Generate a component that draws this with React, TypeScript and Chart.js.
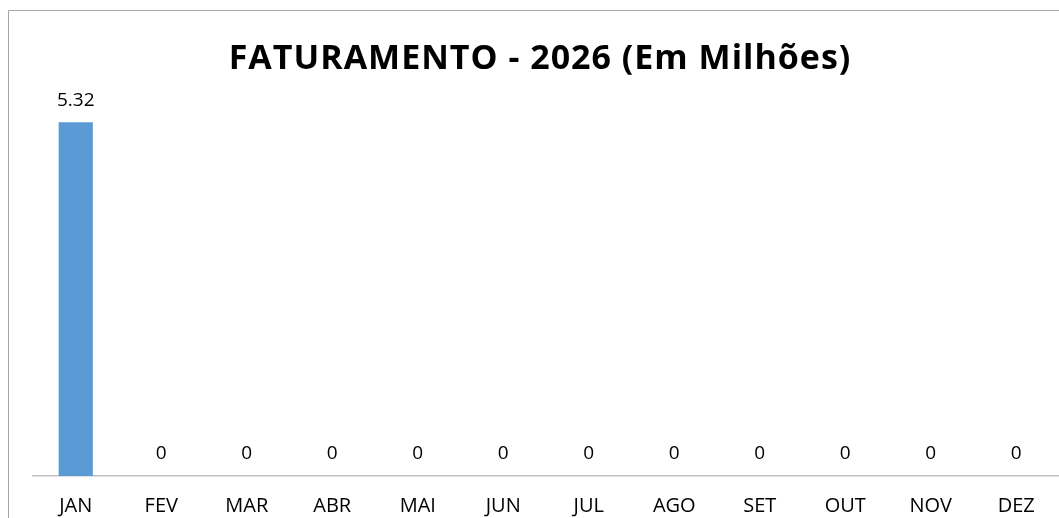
import React, { useEffect, useRef } from "react";
import { Chart, registerables } from "chart.js";

Chart.register(...registerables);

const categories = ["JAN", "FEV", "MAR", "ABR", "MAI", "JUN", "JUL", "AGO", "SET", "OUT", "NOV", "DEZ"];
const faturamento = [5.32, 0, 0, 0, 0, 0, 0, 0, 0, 0, 0, 0];
const titleText = "FATURAMENTO - 2026 (Em Milhões)";
const FONT = "'Open Sans', Lato, sans-serif";

const framePlugin = {
  id: "frame",
  beforeDraw(chart: any) {
    const ctx = chart.ctx;
    ctx.save();
    ctx.fillStyle = "#ffffff";
    ctx.fillRect(0, 0, chart.width, chart.height);
    ctx.strokeStyle = "#a6a6a6";
    ctx.lineWidth = 1;
    ctx.beginPath();
    ctx.moveTo(8.5, chart.height + 2);
    ctx.lineTo(8.5, 10.5);
    ctx.lineTo(chart.width + 2, 10.5);
    ctx.stroke();
    ctx.fillStyle = "#000000";
    ctx.font = `bold 34px ${FONT}`;
    try {
      (ctx as any).letterSpacing = "1px";
    } catch (e) {}
    ctx.textAlign = "center";
    ctx.textBaseline = "middle";
    ctx.fillText(titleText, 540, 59);
    ctx.restore();
  },
  afterDatasetsDraw(chart: any) {
    const ctx = chart.ctx;
    const meta = chart.getDatasetMeta(0);
    ctx.save();
    ctx.fillStyle = "#000000";
    ctx.font = `19px ${FONT}`;
    ctx.textAlign = "center";
    ctx.textBaseline = "middle";
    meta.data.forEach((el: any, i: number) => {
      ctx.fillText(String(faturamento[i]), el.x, el.y - 22);
    });
    ctx.restore();
  },
};

export default function App() {
  const ref = useRef<HTMLCanvasElement>(null);
  useEffect(() => {
    const chart = new Chart(ref.current!, {
      type: "bar",
      data: {
        labels: categories,
        datasets: [
          {
            data: faturamento,
            backgroundColor: "#5b9bd5",
            barPercentage: 0.4,
            categoryPercentage: 1,
          },
        ],
      },
      options: {
        animation: false,
        responsive: false,
        devicePixelRatio: 1,
        layout: { padding: { left: 33, right: 0, top: 77, bottom: 0 } },
        plugins: { legend: { display: false }, tooltip: { enabled: false }, title: { display: false } },
        scales: {
          x: {
            offset: true,
            grid: { display: false, drawTicks: false },
            border: { display: true, color: "#bfbfbf", width: 1.5 },
            ticks: { color: "#000000", font: { family: FONT, size: 20 }, padding: 18, maxRotation: 0 },
            afterFit(scale: any) {
              scale.height = 42;
            },
          },
          y: { display: false, min: 0, max: 6 },
        },
      },
      plugins: [framePlugin],
    });
    return () => chart.destroy();
  }, []);
  return (
    <canvas
      ref={ref}
      width={1059}
      height={518}
      style={{ position: "absolute", left: 0, top: 0, display: "block" }}
    />
  );
}
